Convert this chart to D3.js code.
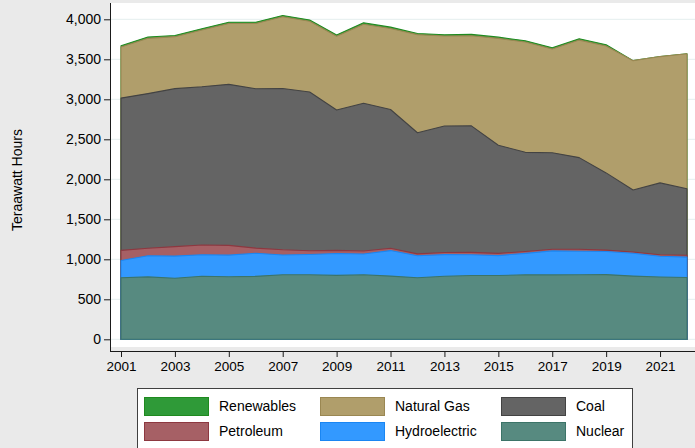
<!DOCTYPE html>
<html>
<head>
<meta charset="utf-8">
<script src="https://cdn.jsdelivr.net/npm/d3@7"></script>
<style>
  body { margin: 0; background: #eaeaea; }
  svg { display: block; font-family: Arial, "Liberation Sans", sans-serif; }
</style>
</head>
<body>
<div class="chart"></div>
<script>
///////////////////////////////////////////////////
//  Data (TWh)
///////////////////////////////////////////////////

const years = [2001, 2002, 2003, 2004, 2005, 2006, 2007, 2008, 2009, 2010, 2011,
  2012, 2013, 2014, 2015, 2016, 2017, 2018, 2019, 2020, 2021, 2022];

const nuclear = [769, 780, 764, 789, 782, 787, 806, 806, 799, 807, 790,
  769, 789, 797, 797, 806, 805, 807, 809, 790, 778, 772];
const hydroelectric = [217, 264, 276, 268, 270, 289, 247, 254, 273, 260, 319,
  276, 269, 259, 249, 268, 300, 293, 288, 285, 260, 255];
const petroleum = [125, 94, 119, 121, 122, 64, 66, 46, 39, 37, 30,
  23, 27, 30, 28, 24, 21, 25, 18, 17, 19, 23];
const coal = [1904, 1933, 1974, 1978, 2013, 1991, 2016, 1986, 1756, 1847, 1733,
  1514, 1581, 1582, 1352, 1239, 1206, 1146, 965, 774, 898, 832];
const naturalGas = [639, 691, 650, 710, 761, 816, 897, 883, 921, 988, 1014,
  1226, 1125, 1127, 1335, 1379, 1297, 1469, 1586, 1617, 1579, 1687];
const renewables = [16, 16, 15, 15, 16, 16, 16, 16, 17, 17, 16,
  15, 16, 16, 16, 16, 16, 16, 16, 0, 0, 0];

const yTicks = [0, 500, 1000, 1500, 2000, 2500, 3000, 3500, 4000];
const xTicks = [2001, 2003, 2005, 2007, 2009, 2011, 2013, 2015, 2017, 2019, 2021];

// bottom to top
const series = [
  { name: 'Nuclear', values: nuclear, fill: '#578a80', stroke: '#3c7468' },
  { name: 'Hydroelectric', values: hydroelectric, fill: '#3399ff', stroke: '#1a86f2' },
  { name: 'Petroleum', values: petroleum, fill: '#a66065', stroke: '#8d3840' },
  { name: 'Coal', values: coal, fill: '#646464', stroke: '#434343' },
  { name: 'Natural Gas', values: naturalGas, fill: '#b09e6b', stroke: '#9a8752' },
  { name: 'Renewables', values: renewables, fill: '#2f9a38', stroke: '#1f8a1f' }
];

// legend layout (row by row)
const legendOrder = ['Renewables', 'Natural Gas', 'Coal', 'Petroleum', 'Hydroelectric', 'Nuclear'];

///////////////////////////////////////////////////
//  Main code
///////////////////////////////////////////////////

let width = 695;
let height = 448;

let rows = years.map((yr, i) => {
  let r = { year: yr };
  series.forEach(s => { r[s.name] = s.values[i]; });
  return r;
});

let stacked = d3.stack().keys(series.map(s => s.name))(rows);

let x = d3.scaleLinear().domain([2001, 2022]).range([121, 687]);
let y = d3.scaleLinear().domain([0, 4000]).range([339.3, 19.3]);

let svg = d3.select('.chart')
  .append('svg')
    .attr('width', width)
    .attr('height', height);

// plot region
svg.append('rect')
  .attr('x', 111)
  .attr('y', 3)
  .attr('width', width - 111)
  .attr('height', 344)
  .style('fill', '#ffffff');

// grid
svg.append('g')
  .selectAll('line')
  .data(yTicks)
  .enter()
  .append('line')
    .attr('x1', 111)
    .attr('x2', width)
    .attr('y1', d => y(d))
    .attr('y2', d => y(d))
    .style('stroke', '#e4eeee')
    .style('stroke-width', 1);

// areas: drawn from the largest cumulative total down, each from zero (Stata style)
let area = d3.area()
  .x(d => x(d.data.year))
  .y0(y(0))
  .y1(d => y(d[1]));

svg.append('g')
  .selectAll('path')
  .data(stacked.slice().reverse())
  .enter()
  .append('path')
    .attr('d', area)
    .style('fill', d => series[d.index].fill)
    .style('stroke', d => series[d.index].stroke)
    .style('stroke-width', 1.1)
    .style('stroke-linejoin', 'round');

// y axis
let yAxis = svg.append('g')
  .attr('transform', 'translate(110,0)')
  .call(d3.axisLeft(y)
    .tickValues(yTicks)
    .tickSize(6)
    .tickPadding(3)
    .tickFormat(d3.format(',')));

yAxis.select('.domain')
  .attr('d', 'M0.5,3V351.5');

// x axis
let xAxis = svg.append('g')
  .attr('transform', 'translate(0,351)')
  .call(d3.axisBottom(x)
    .tickValues(xTicks)
    .tickSize(6)
    .tickPadding(4)
    .tickFormat(d3.format('d')));

xAxis.select('.domain')
  .attr('d', 'M110,0.5H' + width);

svg.selectAll('.tick text')
  .style('fill', '#000')
  .style('font-family', 'Arial, "Liberation Sans", sans-serif');
yAxis.selectAll('.tick text').style('font-size', '14px');
xAxis.selectAll('.tick text').style('font-size', '13.5px');
svg.selectAll('.domain, .tick line').style('stroke', '#1a1a1a');

// y label
svg.append('text')
  .attr('transform', 'translate(22,180) rotate(-90)')
  .attr('text-anchor', 'middle')
  .style('font-size', '14px')
  .text('Teraawatt Hours');

// legend
let legend = svg.append('g');

legend.append('rect')
  .attr('x', 137.5)
  .attr('y', 388.5)
  .attr('width', 495)
  .attr('height', 80)
  .style('fill', '#ffffff')
  .style('stroke', '#404040')
  .style('stroke-width', 1);

const colX = [144, 320, 501];
const rowY = [397, 422];

legendOrder.forEach((name, i) => {
  let s = series.find(d => d.name === name);
  let cx = colX[i % 3];
  let cy = rowY[Math.floor(i / 3)];

  legend.append('rect')
    .attr('x', cx + 0.5)
    .attr('y', cy + 0.5)
    .attr('width', 64)
    .attr('height', 18)
    .style('fill', s.fill)
    .style('stroke', s.stroke)
    .style('stroke-width', 1);

  legend.append('text')
    .attr('x', cx + 75)
    .attr('y', cy + 9.5)
    .attr('dy', '0.35em')
    .style('font-size', '14px')
    .text(name);
});
</script>
</body>
</html>
